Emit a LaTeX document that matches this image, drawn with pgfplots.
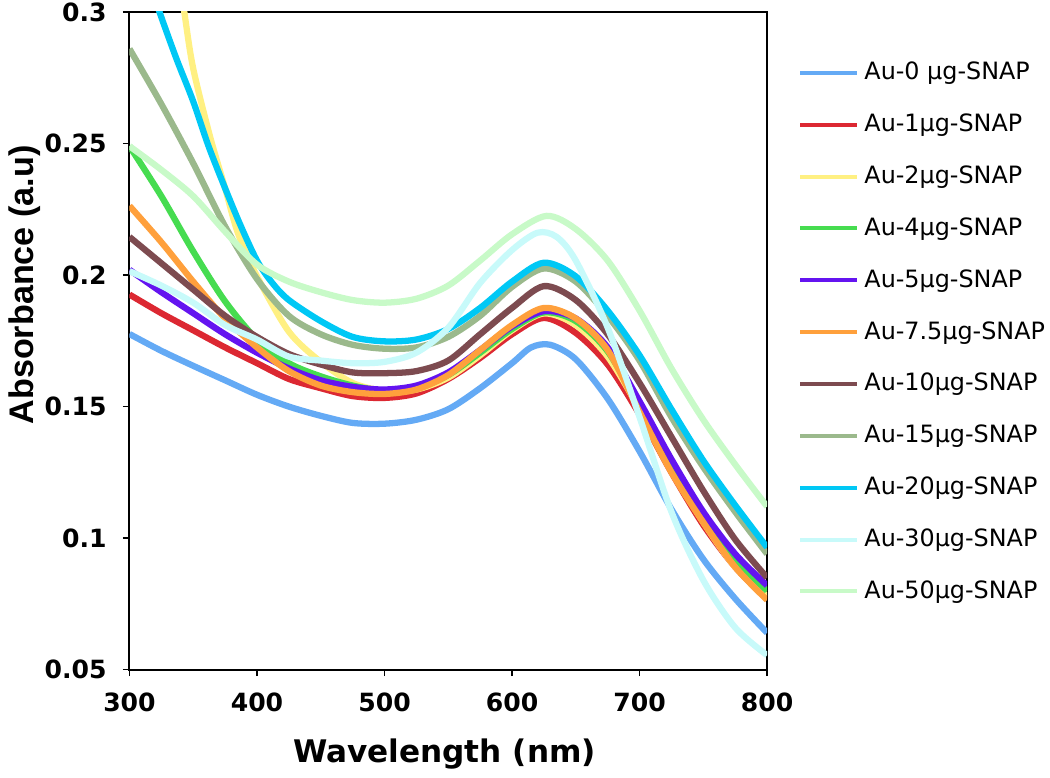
\documentclass[border=0pt]{standalone}
\usepackage{fontspec}
\setmainfont{DejaVu Sans}
\newfontfamily\arialfont{Liberation Sans}
\usepackage{pgfplots}
\pgfplotsset{compat=1.18}
\definecolor{cAu0}{RGB}{100,170,245}
\definecolor{cAu1}{RGB}{220,40,50}
\definecolor{cAu2}{RGB}{255,240,130}
\definecolor{cAu4}{RGB}{70,220,80}
\definecolor{cAu5}{RGB}{100,20,240}
\definecolor{cAu75}{RGB}{255,160,60}
\definecolor{cAu10}{RGB}{125,75,80}
\definecolor{cAu15}{RGB}{155,185,140}
\definecolor{cAu20}{RGB}{0,200,245}
\definecolor{cAu30}{RGB}{200,250,250}
\definecolor{cAu50}{RGB}{200,250,200}
\begin{document}
\begin{tikzpicture}
\begin{axis}[
    scale only axis,
    width=254pt, height=262pt,
    xmin=300, xmax=800,
    ymin=0.05, ymax=0.3,
    xtick={300,400,...,800},
    ytick={0.05,0.1,0.15,0.2,0.25,0.3},
    yticklabels={0.05,0.1,0.15,0.2,0.25,0.3},
    xtick pos=bottom, ytick pos=left,
    tick align=outside,
    major tick length=2.6pt,
    every tick/.style={black, line width=0.6pt},
    axis line style={black, line width=0.8pt},
    /pgf/number format/assume math mode=true,
    tick label style={font=\bfseries\fontsize{10}{12}\selectfont, inner sep=1pt},
    xticklabel style={yshift=-5.3pt},
    yticklabel style={xshift=-5.3pt},
    xlabel={Wavelength (nm)},
    ylabel={Absorbance (a.u)},
    xlabel style={font=\bfseries\fontsize{12.4}{14}\selectfont, at={(axis description cs:0.494,-0.128)}, anchor=center},
    ylabel style={font=\arialfont\bfseries\fontsize{13.6}{15}\selectfont, at={(axis description cs:-0.165,0.585)}, anchor=center},
    legend style={at={(axis description cs:1.048,0.932)}, anchor=north west, draw=none, fill=none,
        font=\fontsize{9.5}{11}\selectfont, row sep=8.1pt, inner sep=0pt},
    legend cell align=left,
    legend image code/.code={\draw[#1, line width=1.6pt] (0pt,0pt) -- (22.8pt,0pt);},
    every axis plot/.append style={line width=2.5pt, smooth, line join=round},
]
\addplot[cAu0] coordinates {(300,0.1776)(325,0.1712)(350,0.1655)(375,0.160)(400,0.1545)(425,0.150)(450,0.1465)(475,0.1438)(500,0.1435)(525,0.145)(550,0.149)(575,0.157)(600,0.1665)(615,0.1725)(630,0.1735)(650,0.168)(675,0.153)(700,0.133)(725,0.111)(750,0.092)(775,0.077)(800,0.064)};
\addlegendentry{Au-0 μg-SNAP}
\addplot[cAu1] coordinates {(300,0.1926)(325,0.1855)(350,0.179)(375,0.1725)(400,0.1665)(425,0.1605)(450,0.157)(475,0.154)(500,0.1533)(525,0.155)(550,0.1605)(575,0.1685)(600,0.1775)(625,0.1837)(650,0.178)(675,0.166)(700,0.147)(725,0.125)(750,0.105)(775,0.089)(800,0.077)};
\addlegendentry{Au-1μg-SNAP}
\addplot[cAu2] coordinates {(330,0.345)(343,0.300)(350,0.2785)(363,0.253)(375,0.233)(385,0.216)(400,0.1995)(425,0.1785)(450,0.167)(475,0.159)(500,0.156)(525,0.1565)(550,0.161)(575,0.1695)(600,0.179)(625,0.1854)(650,0.181)(675,0.169)(700,0.149)(725,0.126)(750,0.106)(775,0.089)(800,0.078)};
\addlegendentry{Au-2μg-SNAP}
\addplot[cAu4] coordinates {(300,0.249)(325,0.230)(350,0.209)(375,0.190)(400,0.1755)(425,0.1665)(450,0.1615)(475,0.158)(500,0.156)(525,0.157)(550,0.162)(575,0.1705)(600,0.1795)(625,0.1858)(650,0.1825)(675,0.171)(700,0.150)(725,0.128)(750,0.108)(775,0.092)(800,0.080)};
\addlegendentry{Au-4μg-SNAP}
\addplot[cAu5] coordinates {(300,0.202)(325,0.1935)(350,0.1855)(375,0.1775)(400,0.1705)(425,0.1645)(450,0.160)(475,0.1575)(500,0.1565)(525,0.158)(550,0.163)(575,0.1715)(600,0.1805)(625,0.1863)(650,0.1835)(675,0.1725)(700,0.152)(725,0.130)(750,0.110)(775,0.094)(800,0.082)};
\addlegendentry{Au-5μg-SNAP}
\addplot[cAu75] coordinates {(300,0.2263)(325,0.2125)(350,0.1975)(375,0.1835)(400,0.1725)(425,0.1635)(450,0.158)(475,0.1555)(500,0.1548)(525,0.1565)(550,0.162)(575,0.1715)(600,0.181)(625,0.1875)(650,0.1835)(675,0.1715)(700,0.148)(725,0.125)(750,0.106)(775,0.089)(800,0.0765)};
\addlegendentry{Au-7.5μg-SNAP}
\addplot[cAu10] coordinates {(300,0.2145)(325,0.2045)(350,0.1945)(375,0.1845)(400,0.1765)(425,0.170)(450,0.166)(475,0.163)(500,0.1627)(525,0.1635)(550,0.1675)(575,0.1775)(600,0.1875)(625,0.1958)(650,0.1905)(675,0.1775)(700,0.159)(725,0.1385)(750,0.118)(775,0.0995)(800,0.085)};
\addlegendentry{Au-10μg-SNAP}
\addplot[cAu15] coordinates {(300,0.286)(325,0.265)(350,0.2425)(375,0.2185)(400,0.1985)(425,0.1845)(450,0.1775)(475,0.1735)(500,0.172)(525,0.1725)(550,0.1765)(575,0.1845)(600,0.1955)(625,0.2025)(650,0.1975)(675,0.1845)(700,0.1675)(725,0.146)(750,0.127)(775,0.110)(800,0.094)};
\addlegendentry{Au-15μg-SNAP}
\addplot[cAu20] coordinates {(318,0.308)(325,0.298)(337,0.282)(350,0.266)(362,0.249)(375,0.233)(387,0.219)(400,0.2055)(412,0.197)(425,0.1905)(450,0.1825)(475,0.1765)(500,0.1748)(525,0.1755)(550,0.1795)(575,0.1875)(600,0.1975)(625,0.2047)(650,0.1995)(675,0.1865)(700,0.1695)(725,0.149)(750,0.1295)(775,0.1125)(800,0.0965)};
\addlegendentry{Au-20μg-SNAP}
\addplot[cAu30] coordinates {(300,0.2015)(325,0.196)(350,0.1895)(375,0.181)(400,0.1755)(425,0.169)(450,0.1675)(475,0.1665)(500,0.167)(525,0.1705)(550,0.180)(575,0.197)(600,0.2095)(620,0.2161)(635,0.2145)(650,0.2055)(675,0.180)(700,0.146)(725,0.110)(750,0.084)(775,0.066)(800,0.0555)};
\addlegendentry{Au-30μg-SNAP}
\addplot[cAu50] coordinates {(300,0.249)(325,0.240)(350,0.230)(375,0.2165)(400,0.204)(425,0.1975)(450,0.1935)(475,0.1905)(500,0.1895)(525,0.191)(550,0.196)(575,0.2055)(600,0.2155)(627,0.2225)(650,0.2175)(675,0.2055)(700,0.1865)(725,0.1645)(750,0.145)(775,0.128)(800,0.112)};
\addlegendentry{Au-50μg-SNAP}
\end{axis}
\end{tikzpicture}
\end{document}
